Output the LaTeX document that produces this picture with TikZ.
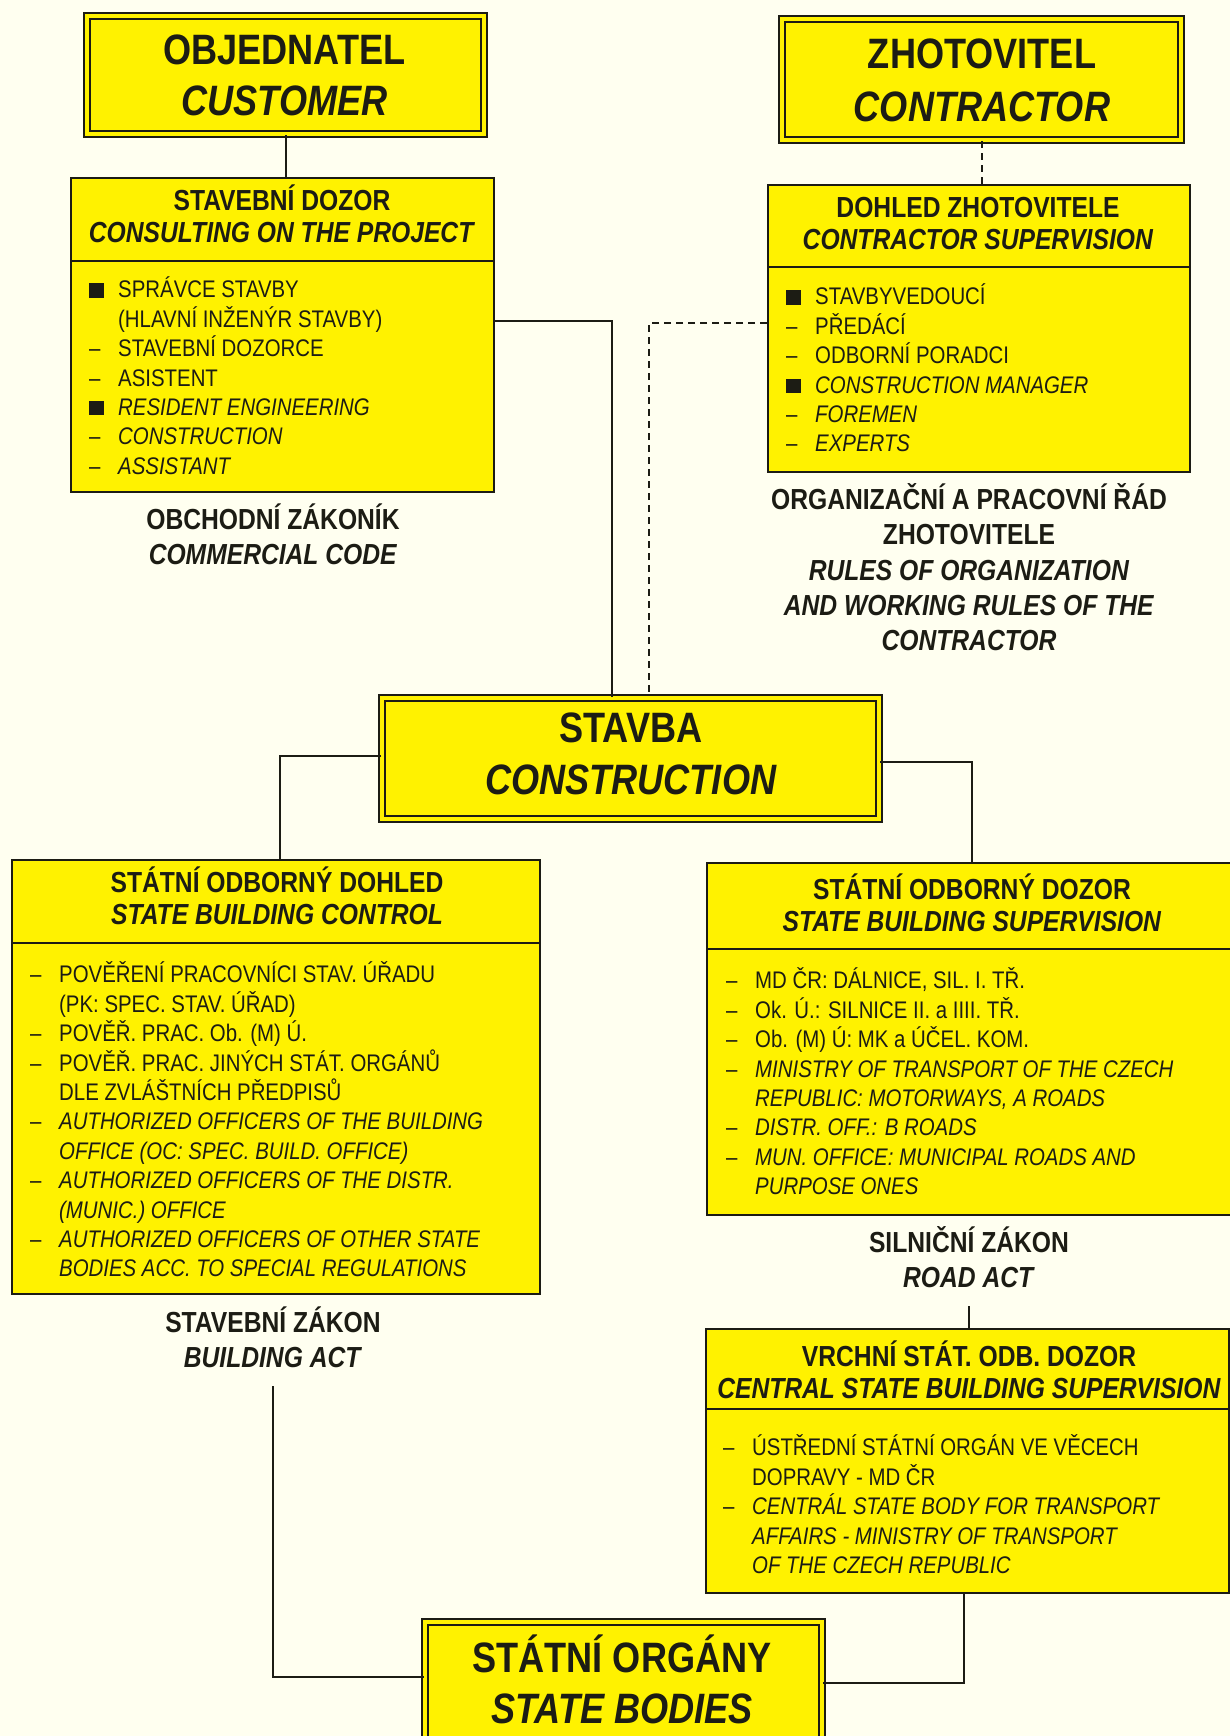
\documentclass[tikz,border=0pt]{standalone}
\usepackage{fontspec}
\setmainfont{Liberation Sans}[FakeStretch=0.85]
\definecolor{ink}{HTML}{1C1C14}
\definecolor{paper}{HTML}{FFFFF0}
\definecolor{boxyellow}{HTML}{FFF200}
\newcommand\tstrut{\rule{0pt}{1em}}
\newcommand\sqb{\makebox[29pt][l]{\rule{15pt}{14.5pt}}}
\newcommand\dab{\makebox[29pt][l]{–}}
\newcommand\indt{\hspace*{29pt}}
\newcommand\bigfnt{\fontsize{42.5}{51}\selectfont\bfseries}
\newcommand\hdfnt{\fontsize{29}{32}\selectfont\bfseries}
\newcommand\lblfnt{\fontsize{29}{35}\selectfont\bfseries}
\newcommand\itfnt{\fontsize{24}{29.4}\selectfont}
\begin{document}
\begin{tikzpicture}[x=1pt,y=-1pt,
  every node/.append style={text=ink},
  plainbox/.style={draw=ink, line width=2.4pt, fill=boxyellow, inner sep=0pt, anchor=north west},
  bigbox/.style={draw=ink, double=boxyellow, double distance=4pt, line width=2.2pt, fill=boxyellow, inner sep=0pt, anchor=north west},
  bigtxt/.style={font=\bigfnt, align=center, inner sep=0pt, anchor=north},
  hdtxt/.style={font=\hdfnt, align=center, inner sep=0pt, anchor=north},
  lbltxt/.style={font=\lblfnt, align=center, inner sep=0pt, anchor=north},
  itemtxt/.style={font=\itfnt, align=left, inner sep=0pt, anchor=north west},
  conn/.style={draw=ink, line width=2.2pt},
  dconn/.style={draw=ink, line width=2.2pt, dash pattern=on 7pt off 5pt},
  divline/.style={draw=ink, line width=2.2pt}
]
\useasboundingbox (0,0) rectangle (1230,1736);
\fill[paper] (0,0) rectangle (1230,1736);

% ---------- top boxes ----------
\node[bigbox, minimum width=397pt, minimum height=118pt] (cust) at (86,15) {};
\node[bigtxt] (custt) at (284.5,21.5) {\tstrut OBJEDNATEL\\\textit{CUSTOMER}};

\node[bigbox, minimum width=399pt, minimum height=121pt] (contr) at (781,18) {};
\node[bigtxt] (contrt) at (982,25.5) {\tstrut ZHOTOVITEL\\[2pt]\textit{CONTRACTOR}};

% ---------- stavebni dozor ----------
\node[plainbox, minimum width=423pt, minimum height=314pt] (sd) at (70,177) {};
\draw[divline] (sd.west |- 0,261) -- (sd.east |- 0,261);
\node[hdtxt] (sdt) at (282,181.4) {\tstrut STAVEBNÍ DOZOR\\\textit{CONSULTING ON THE PROJECT}};
\node[itemtxt] (sdi) at (89,273.6) {\tstrut\sqb SPRÁVCE STAVBY\\
\indt (HLAVNÍ INŽENÝR STAVBY)\\
\dab STAVEBNÍ DOZORCE\\
\dab ASISTENT\\
\sqb \textit{RESIDENT ENGINEERING}\\
\dab \textit{CONSTRUCTION}\\
\dab \textit{ASSISTANT}};
\node[lbltxt] (sdl) at (273,500.4) {\tstrut OBCHODNÍ ZÁKONÍK\\\textit{COMMERCIAL CODE}};

% ---------- dohled zhotovitele ----------
\node[plainbox, minimum width=422pt, minimum height=287pt] (doh) at (767,184) {};
\draw[divline] (doh.west |- 0,267) -- (doh.east |- 0,267);
\node[hdtxt] (doht) at (978,188.4) {\tstrut DOHLED ZHOTOVITELE\\\textit{CONTRACTOR SUPERVISION}};
\node[itemtxt] (dohi) at (786,280.6) {\tstrut\sqb STAVBYVEDOUCÍ\\
\dab PŘEDÁCÍ\\
\dab ODBORNÍ PORADCI\\
\sqb \textit{CONSTRUCTION MANAGER}\\
\dab \textit{FOREMEN}\\
\dab \textit{EXPERTS}};
\node[lbltxt, font=\fontsize{29}{35.2}\selectfont\bfseries] (dohl) at (969,480.4) {\tstrut ORGANIZAČNÍ A PRACOVNÍ ŘÁD\\ZHOTOVITELE\\\textit{RULES OF ORGANIZATION}\\\textit{AND WORKING RULES OF THE}\\\textit{CONTRACTOR}};

% ---------- stavba ----------
\node[bigbox, minimum width=497pt, minimum height=121pt] (stavba) at (381,697) {};
\node[bigtxt] (stavbat) at (631,699.5) {\tstrut STAVBA\\[1pt]\textit{CONSTRUCTION}};

% ---------- statni odborny dohled ----------
\node[plainbox, minimum width=528pt, minimum height=434pt] (sod) at (11,859) {};
\draw[divline] (sod.west |- 0,943) -- (sod.east |- 0,943);
\node[hdtxt] (sodt) at (277,863.4) {\tstrut STÁTNÍ ODBORNÝ DOHLED\\\textit{STATE BUILDING CONTROL}};
\node[itemtxt] (sodi) at (30,958.6) {\tstrut\dab POVĚŘENÍ PRACOVNÍCI STAV. ÚŘADU\\
\indt (PK: SPEC. STAV. ÚŘAD)\\
\dab POVĚŘ. PRAC. Ob. (M) Ú.\\
\dab POVĚŘ. PRAC. JINÝCH STÁT. ORGÁNŮ\\
\indt DLE ZVLÁŠTNÍCH PŘEDPISŮ\\
\dab \textit{AUTHORIZED OFFICERS OF THE BUILDING}\\
\indt \textit{OFFICE (OC: SPEC. BUILD. OFFICE)}\\
\dab \textit{AUTHORIZED OFFICERS OF THE DISTR.}\\
\indt \textit{(MUNIC.) OFFICE}\\
\dab \textit{AUTHORIZED OFFICERS OF OTHER STATE}\\
\indt \textit{BODIES ACC. TO SPECIAL REGULATIONS}};
\node[lbltxt] (sodl) at (273,1303.4) {\tstrut STAVEBNÍ ZÁKON\\\textit{BUILDING ACT}};

% ---------- statni odborny dozor ----------
\node[plainbox, minimum width=530pt, minimum height=352pt] (soz) at (706,862) {};
\draw[divline] (soz.west |- 0,949) -- (soz.east |- 0,949);
\node[hdtxt] (sozt) at (972,870.4) {\tstrut STÁTNÍ ODBORNÝ DOZOR\\\textit{STATE BUILDING SUPERVISION}};
\node[itemtxt] (sozi) at (726,964.6) {\tstrut\dab MD ČR: DÁLNICE, SIL. I. TŘ.\\
\dab Ok. Ú.: SILNICE II. a IIII. TŘ.\\
\dab Ob. (M) Ú: MK a ÚČEL. KOM.\\
\dab \textit{MINISTRY OF TRANSPORT OF THE CZECH}\\
\indt \textit{REPUBLIC: MOTORWAYS, A ROADS}\\
\dab \textit{DISTR. OFF.: B ROADS}\\
\dab \textit{MUN. OFFICE: MUNICIPAL ROADS AND}\\
\indt \textit{PURPOSE ONES}};
\node[lbltxt] (sozl) at (969,1223.4) {\tstrut SILNIČNÍ ZÁKON\\\textit{ROAD ACT}};

% ---------- vrchni statni odborny dozor ----------
\node[plainbox, minimum width=523pt, minimum height=264pt] (vsod) at (705,1328) {};
\draw[divline] (vsod.west |- 0,1409) -- (vsod.east |- 0,1409);
\node[hdtxt] (vsodt) at (969,1337.4) {\tstrut VRCHNÍ STÁT. ODB. DOZOR\\\textit{CENTRAL STATE BUILDING SUPERVISION}};
\node[itemtxt] (vsodi) at (723,1431.6) {\tstrut\dab ÚSTŘEDNÍ STÁTNÍ ORGÁN VE VĚCECH\\
\indt DOPRAVY - MD ČR\\
\dab \textit{CENTRÁL STATE BODY FOR TRANSPORT}\\
\indt \textit{AFFAIRS - MINISTRY OF TRANSPORT}\\
\indt \textit{OF THE CZECH REPUBLIC}};

% ---------- statni organy ----------
\node[bigbox, minimum width=397pt, minimum height=160pt] (organy) at (424,1621) {};
\node[bigtxt] (organyt) at (622,1629.5) {\tstrut STÁTNÍ ORGÁNY\\\textit{STATE BODIES}};

% ---------- connectors ----------
\draw[conn] (cust.south) -- (cust.south |- sd.north);
\draw[dconn] (contr.south) -- (contr.south |- doh.north);
\draw[conn] (sd.east |- 0,321) -| ([xshift=-18.5pt]stavba.north);
\draw[dconn] (doh.west |- 0,323) -| ([xshift=18.5pt]stavba.north);
\draw[conn] (stavba.west |- 0,756) -| ([xshift=4pt]sod.north);
\draw[conn] (stavba.east |- 0,762) -| (soz.north);
\draw[conn] (sozl.south |- 0,1306) -- (sozl.south |- vsod.north);
\draw[conn] (sodl.south |- 0,1386) |- (organy.west |- 0,1677);
\draw[conn] (vsod.south -| 964,0) |- (organy.east |- 0,1683);
\end{tikzpicture}
\end{document}
